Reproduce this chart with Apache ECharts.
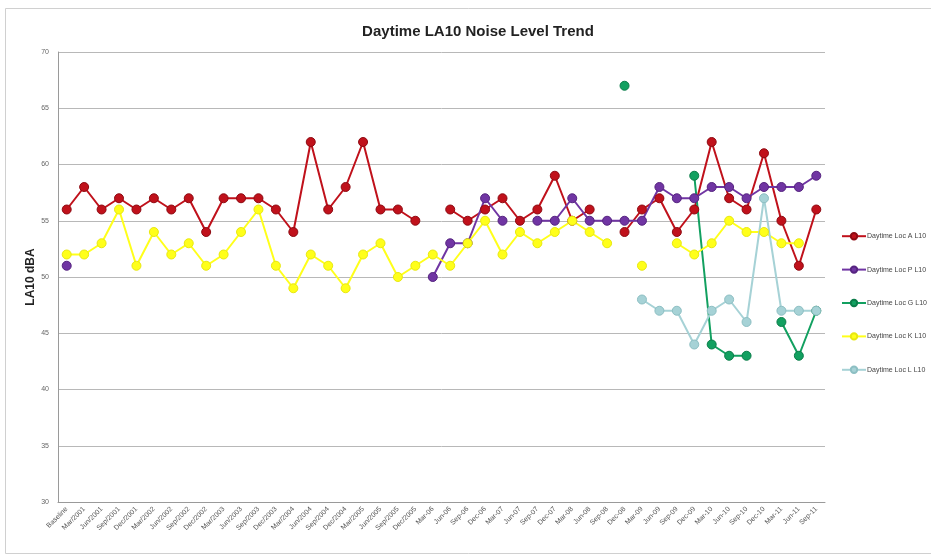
<!DOCTYPE html>
<html>
<head>
<meta charset="utf-8">
<script src="https://cdn.jsdelivr.net/npm/echarts@6/dist/echarts.min.js"></script>
<style>
  html, body { margin: 0; padding: 0; background: #fff; }
  #chart { width: 931px; height: 556px; }
</style>
</head>
<body>
<div id="chart"></div>
<script>
// Survey periods
const periods = [
  'Baseline', 'Mar/2001', 'Jun/2001', 'Sep/2001', 'Dec/2001',
  'Mar/2002', 'Jun/2002', 'Sep/2002', 'Dec/2002',
  'Mar/2003', 'Jun/2003', 'Sep/2003', 'Dec/2003',
  'Mar/2004', 'Jun/2004', 'Sep/2004', 'Dec/2004',
  'Mar/2005', 'Jun/2005', 'Sep/2005', 'Dec/2005',
  'Mar-06', 'Jun-06', 'Sep-06', 'Dec-06',
  'Mar-07', 'Jun-07', 'Sep-07', 'Dec-07',
  'Mar-08', 'Jun-08', 'Sep-08', 'Dec-08',
  'Mar-09', 'Jun-09', 'Sep-09', 'Dec-09',
  'Mar-10', 'Jun-10', 'Sep-10', 'Dec-10',
  'Mar-11', 'Jun-11', 'Sep-11'
];

// LA10 levels (dBA) per monitoring location; null = no measurement
const locA = [56, 58, 56, 57, 56, 57, 56, 57, 54, 57, 57, 57, 56, 54, 62, 56, 58, 62, 56, 56, 55,
  null, 56, 55, 56, 57, 55, 56, 59, 55, 56, null, 54, 56, 57, 54, 56, 62, 57, 56, 61, 55, 51, 56];
const locP = [51, null, null, null, null, null, null, null, null, null, null, null, null, null, null, null, null, null, null, null, null,
  50, 53, 53, 57, 55, null, 55, 55, 57, 55, 55, 55, 55, 58, 57, 57, 58, 58, 57, 58, 58, 58, 59];
const locG = [null, null, null, null, null, null, null, null, null, null, null, null, null, null, null, null, null, null, null, null, null,
  null, null, null, null, null, null, null, null, null, null, null, 67, null, null, null, 59, 44, 43, 43, null, 46, 43, 47];
const locK = [52, 52, 53, 56, 51, 54, 52, 53, 51, 52, 54, 56, 51, 49, 52, 51, 49, 52, 53, 50, 51,
  52, 51, 53, 55, 52, 54, 53, 54, 55, 54, 53, null, 51, null, 53, 52, 53, 55, 54, 54, 53, 53, null];
const locL = [null, null, null, null, null, null, null, null, null, null, null, null, null, null, null, null, null, null, null, null, null,
  null, null, null, null, null, null, null, null, null, null, null, null, 48, 47, 47, 44, 47, 48, 46, 57, 47, 47, 47];

const seriesNames = ['Daytime Loc A L10', 'Daytime Loc P L10', 'Daytime Loc G L10', 'Daytime Loc K L10', 'Daytime Loc L L10'];
const seriesColors = ['#C0111B', '#7035A3', '#12A060', '#FFFF1A', '#A6D2D6'];
const markerEdges = ['#8E0A12', '#562480', '#0C7D4A', '#E8E810', '#8DBFC3'];
const seriesData = [locA, locP, locG, locK, locL];

const yTicks = { min: 30, max: 70, step: 5 };

const chart = echarts.init(document.getElementById('chart'), null, { renderer: 'canvas' });

const font = 'Liberation Sans, Arial, sans-serif';

chart.setOption({
  backgroundColor: '#ffffff',
  animation: false,
  title: {
    text: 'Daytime LA10 Noise Level Trend',
    left: 473,
    top: 19,
    textAlign: 'center',
    textStyle: { fontFamily: font, fontSize: 15, fontWeight: 'bold', color: '#222' }
  },
  graphic: [{
    type: 'rect',
    shape: { x: 5.5, y: 8.5, width: 940, height: 545 },
    style: { fill: 'none', stroke: '#d0d0d0', lineWidth: 1 },
    silent: true
  }],
  legend: {
    orient: 'vertical',
    left: 836,
    top: 227,
    itemGap: 25,
    itemWidth: 24,
    itemHeight: 8,
    data: seriesNames,
    textStyle: { fontFamily: font, fontSize: 7, color: '#444', padding: [0, 0, 0, -4] }
  },
  grid: { left: 58, top: 52, width: 767, height: 450, containLabel: false },
  xAxis: {
    type: 'category',
    data: periods,
    boundaryGap: true,
    axisLine: { lineStyle: { color: '#9a9a9a', width: 1 } },
    axisTick: { show: false },
    axisLabel: {
      interval: 0,
      rotate: 45,
      fontFamily: font,
      fontSize: 7,
      color: '#555',
      margin: 6
    }
  },
  yAxis: {
    type: 'value',
    min: yTicks.min,
    max: yTicks.max,
    interval: yTicks.step,
    name: 'LA10 dBA',
    nameLocation: 'middle',
    nameGap: 21,
    nameMoveOverlap: false,
    nameTextStyle: { fontFamily: font, fontSize: 12, fontWeight: 'bold', color: '#222' },
    axisLine: { show: true, lineStyle: { color: '#9a9a9a', width: 1 } },
    axisTick: { show: false },
    axisLabel: { fontFamily: font, fontSize: 7, color: '#666', margin: 9 },
    splitLine: { lineStyle: { color: '#b8b8b8', width: 1 } }
  },
  series: seriesNames.map((name, i) => ({
    name: name,
    type: 'line',
    data: seriesData[i],
    connectNulls: false,
    symbol: 'circle',
    symbolSize: 9,
    showSymbol: true,
    showAllSymbol: true,
    lineStyle: { color: seriesColors[i], width: 2 },
    itemStyle: { color: seriesColors[i], borderColor: markerEdges[i], borderWidth: 1 },
    emphasis: { disabled: true }
  }))
});
</script>
</body>
</html>
